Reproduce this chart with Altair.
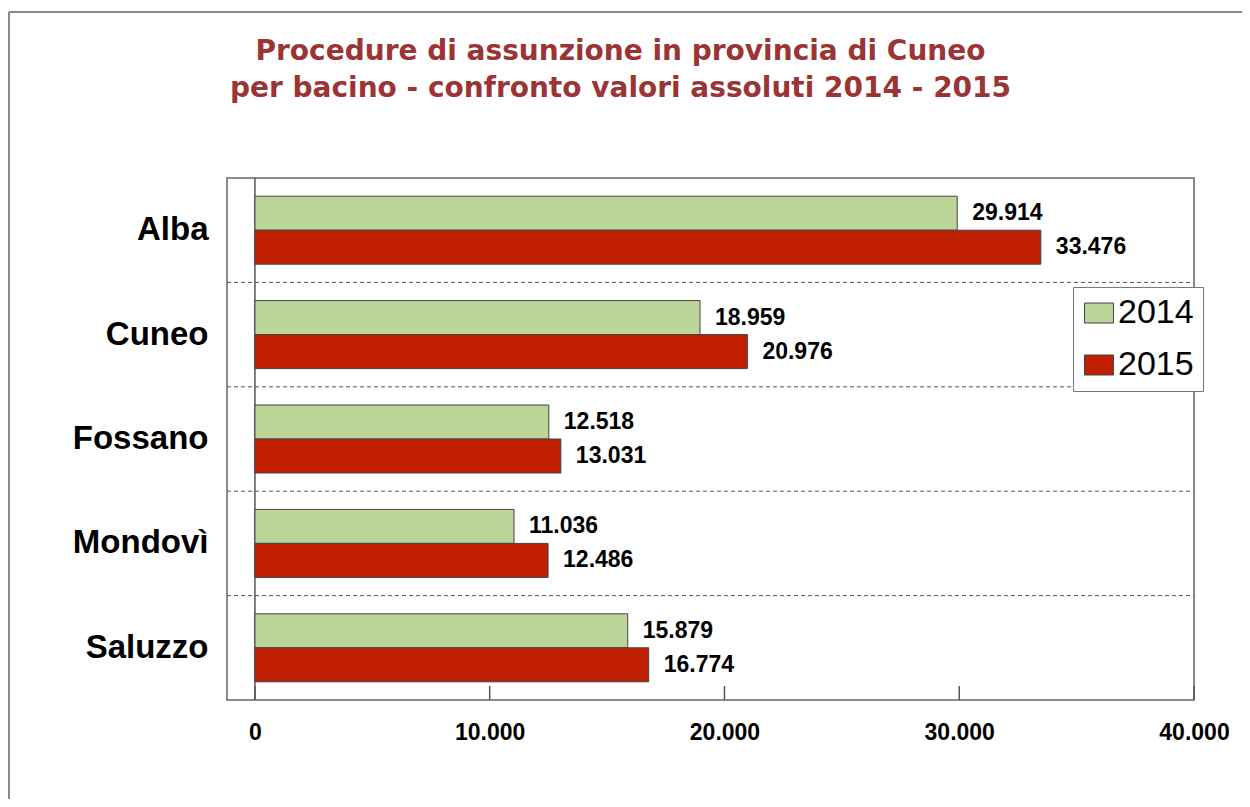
import altair as alt
import pandas as pd

# ---- data ----
categories = ["Alba", "Cuneo", "Fossano", "Mondovì", "Saluzzo"]
years = ["2014", "2015"]
values_2014 = [29914, 18959, 12518, 11036, 15879]
values_2015 = [33476, 20976, 13031, 12486, 16774]
x_ticks = [0, 10000, 20000, 30000, 40000]
colors = ["#BCD598", "#C02000"]

title_lines = [
    "Procedure di assunzione in provincia di Cuneo",
    "per bacino - confronto valori assoluti 2014 - 2015",
]


def it_fmt(v):
    return f"{v:,}".replace(",", ".")


rows = []
for c, a, b in zip(categories, values_2014, values_2015):
    rows.append({"Bacino": c, "Anno": "2014", "Valore": a, "Etichetta": it_fmt(a)})
    rows.append({"Bacino": c, "Anno": "2015", "Valore": b, "Etichetta": it_fmt(b)})
df = pd.DataFrame(rows)

W, H = 967, 522

x_scale = alt.Scale(domain=[-1190, 40000], nice=False, zero=False)
y_scale = alt.Scale(domain=categories, paddingInner=0, paddingOuter=0)
yoff_scale = alt.Scale(domain=years, paddingInner=0, paddingOuter=0.535)

y_axis = alt.Axis(
    ticks=False,
    domain=False,
    grid=False,
    title=None,
    labelFont="Liberation Sans",
    labelFontSize=33,
    labelFontWeight="bold",
    labelColor="black",
    labelPadding=19,
)

base = alt.Chart(df)

bars = base.mark_bar(stroke="#444444", strokeWidth=1).encode(
    x=alt.X(
        "Valore:Q",
        scale=x_scale,
        axis=alt.Axis(
            values=x_ticks,
            labelExpr="replace(format(datum.value, ',d'), ',', '.')",
            ticks=False,
            domain=False,
            grid=False,
            title=None,
            labelFlush=False,
            labelFont="Liberation Sans",
            labelFontSize=23,
            labelFontWeight="bold",
            labelColor="black",
            labelPadding=21,
        ),
    ),
    y=alt.Y("Bacino:N", scale=y_scale, sort=categories, axis=y_axis),
    yOffset=alt.YOffset("Anno:N", scale=yoff_scale, sort=years),
    color=alt.Color(
        "Anno:N",
        scale=alt.Scale(domain=years, range=colors),
        legend=alt.Legend(
            title=None,
            orient="none",
            legendX=846,
            legendY=109,
            padding=9,
            strokeColor="#777777",
            fillColor="white",
            symbolType="M-1.45,-1H1.45V1H-1.45Z",
            symbolSize=400,
            symbolStrokeColor="#444444",
            symbolStrokeWidth=1,
            symbolOpacity=1,
            symbolOffset=0,
            labelOffset=2,
            labelFont="Liberation Sans",
            labelFontSize=34,
            labelColor="black",
            rowPadding=18,
        ),
    ),
)

labels = base.mark_text(
    align="left",
    baseline="middle",
    dx=15,
    font="Liberation Sans",
    fontSize=23,
    fontWeight="bold",
    color="black",
).encode(
    x=alt.X("Valore:Q", scale=x_scale),
    y=alt.Y("Bacino:N", scale=y_scale, sort=categories, axis=y_axis),
    yOffset=alt.YOffset("Anno:N", scale=yoff_scale, sort=years),
    text="Etichetta:N",
)

sep_df = pd.DataFrame({"Bacino": categories[1:]})
separators = alt.Chart(sep_df).mark_rule(
    color="#555555", strokeWidth=1, strokeDash=[4, 3]
).encode(
    y=alt.Y("Bacino:N", scale=y_scale, sort=categories, bandPosition=0, axis=y_axis),
    x=alt.value(0),
    x2=alt.value(W),
)

zero_line = alt.Chart(pd.DataFrame({"v": [0]})).mark_rule(
    color="#555555", strokeWidth=1.5
).encode(
    x=alt.X("v:Q", scale=x_scale),
    y=alt.value(0),
    y2=alt.value(H),
)

ticks = alt.Chart(pd.DataFrame({"v": x_ticks})).mark_rule(
    color="#555555", strokeWidth=1.5
).encode(
    x=alt.X("v:Q", scale=x_scale),
    y=alt.value(H - 14),
    y2=alt.value(H),
)

one = pd.DataFrame({"a": [0]})
frame_top = alt.Chart(one).mark_rule(color="#8a8a8a", strokeWidth=2).encode(
    x=alt.value(-218), x2=alt.value(1015), y=alt.value(-166)
)
frame_left = alt.Chart(one).mark_rule(color="#8a8a8a", strokeWidth=2).encode(
    x=alt.value(-218), y=alt.value(-166), y2=alt.value(H + 99)
)

chart = (
    alt.layer(frame_top, frame_left, separators, zero_line, bars, labels, ticks)
    .properties(
        width=W,
        height=H,
        padding={"left": 219, "top": 170, "right": 48, "bottom": 99},
        autosize=alt.AutoSizeParams(type="none"),
        title=alt.TitleParams(
            text=title_lines,
            font="DejaVu Sans",
            fontSize=28,
            fontWeight="bold",
            color="#9B3535",
            anchor="middle",
            dx=-90,
            offset=-92,
            lineHeight=37,
        ),
    )
    .configure_view(stroke="#666666", strokeWidth=1.5)
)

chart.save("out.html", embed_options={"renderer": "svg", "actions": False})
